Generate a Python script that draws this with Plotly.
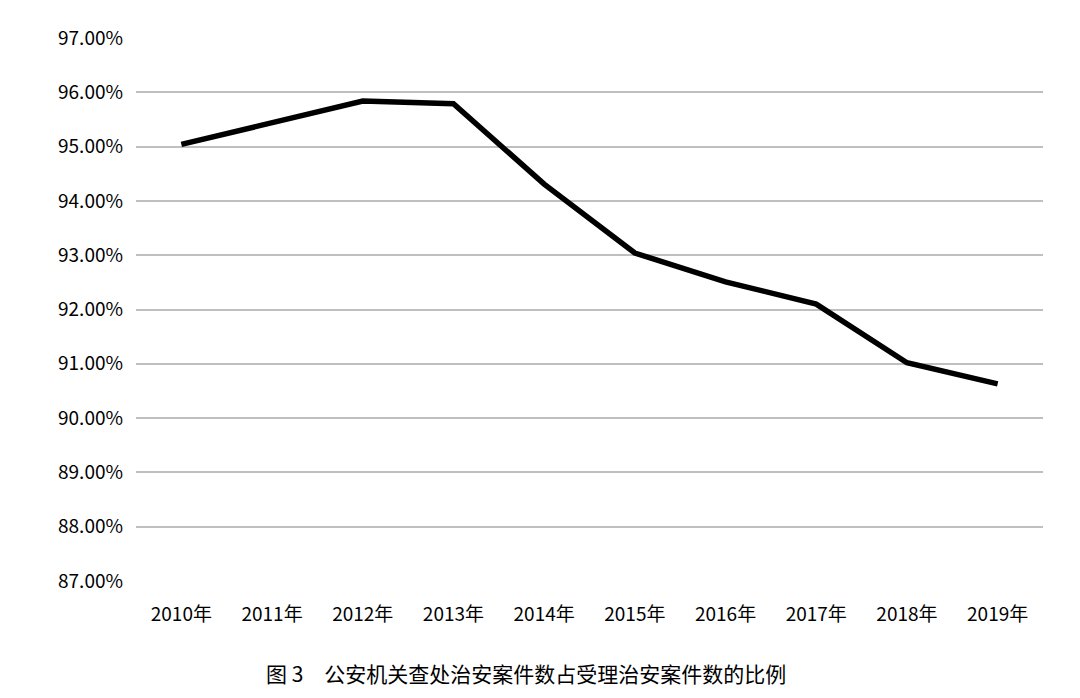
import plotly.graph_objects as go

years = ["2010年","2011年","2012年","2013年","2014年","2015年","2016年","2017年","2018年","2019年"]
ratios = [95.04, 95.43, 95.84, 95.79, 94.31, 93.04, 92.51, 92.10, 91.02, 90.63]
tick_vals = [87,88,89,90,91,92,93,94,95,96,97]
tick_text = [f"{v:.2f}%" for v in tick_vals]

fig = go.Figure(go.Scatter(x=years, y=ratios, mode="lines",
                           line=dict(color="black", width=5.5)))
fig.update_layout(
    width=1080, height=698, plot_bgcolor="white", paper_bgcolor="white",
    margin=dict(l=128, r=45, t=30, b=125), showlegend=False,
    font=dict(family="Noto Sans CJK SC", size=19, color="black"),
    xaxis=dict(range=[-0.5, 9.5], showgrid=False, showline=False, ticks="",
               ticklabelstandoff=20),
    yaxis=dict(range=[87,97], tickvals=tick_vals, ticktext=tick_text,
               showgrid=True, gridcolor="#bfbfbf", gridwidth=1.5, zeroline=False,
               ticklabelstandoff=12),
    annotations=[dict(text="图 3　公安机关查处治安案件数占受理治安案件数的比例",
                      xref="paper", yref="paper", x=0.43, y=-0.2,
                      showarrow=False, font=dict(size=21))],
)
fig.write_html("out.html")
